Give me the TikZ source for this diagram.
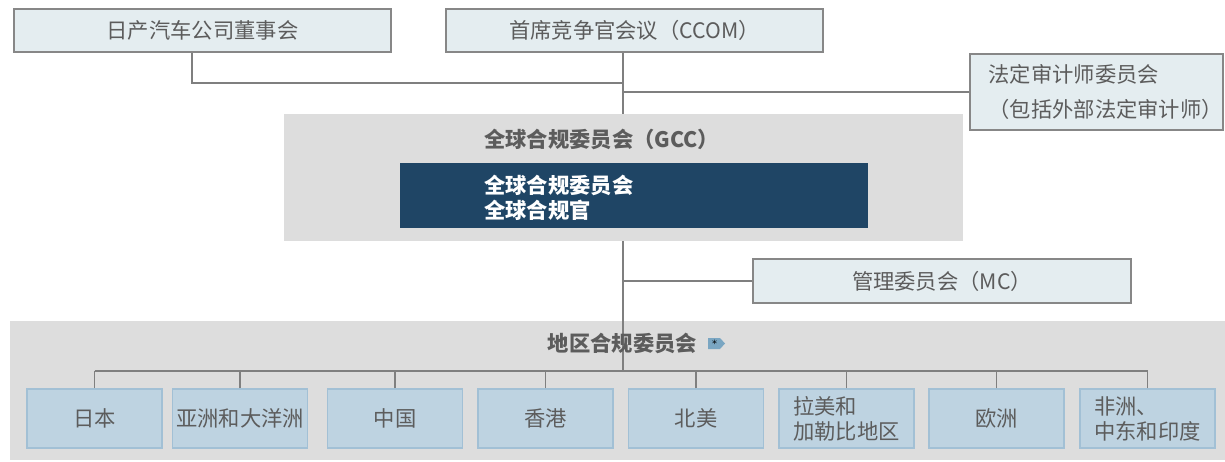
\documentclass[tikz,border=0pt]{standalone}
\usepackage{fontspec}
\setmainfont{Noto Sans CJK SC}
\newfontfamily\starfont{DejaVu Sans}
\definecolor{topfill}{HTML}{E4EDF0}
\definecolor{topdraw}{HTML}{878787}
\definecolor{graybg}{HTML}{DDDDDD}
\definecolor{darkblue}{HTML}{1F4565}
\definecolor{regfill}{HTML}{BED3E1}
\definecolor{regdraw}{HTML}{A2C0D5}
\definecolor{linegray}{HTML}{7F7F7F}
\definecolor{txtgray}{HTML}{5C5C5C}
\definecolor{tagblue}{HTML}{7AA6C2}
\newcommand{\cjksize}{\fontsize{21.3}{25}\selectfont}
\tikzset{
  txt/.style={inner sep=0pt, text=txtgray, font=\cjksize},
  topbox/.style={txt, draw=topdraw, fill=topfill, line width=1.3pt},
  graypanel/.style={fill=graybg, inner sep=0pt},
  darkbox/.style={fill=darkblue, inner sep=0pt},
  regbox/.style={txt, draw=regdraw, fill=regfill, line width=1.5pt, minimum width=135pt, minimum height=59pt, align=left},
  conn/.style={draw=linegray, line width=1.5pt},
}
\begin{document}
\begin{tikzpicture}[x=1pt,y=-1pt]
\useasboundingbox (0,0) rectangle (1225,461);
% regional panel (below connectors)
\node[graypanel, minimum width=1215pt, minimum height=139pt] (rcc) at (617.5,390.5) {};
% top boxes
\node[topbox, minimum width=377pt, minimum height=43pt] (board) at (202.5,30.5) {日产汽车公司董事会};
\node[topbox, minimum width=377pt, minimum height=43pt] (ccom) at (634.5,30.5) {首席竞争官会议（CCOM）};
\node[topbox, minimum width=253pt, minimum height=76pt] (auditor) at (1096.5,92) {};
\node[txt, anchor=west, align=left, font=\fontsize{21.3}{35}\selectfont] (auditorlbl) at ([xshift=19pt]auditor.west) {法定审计师委员会\\（包括外部法定审计师）};
\node[topbox, minimum width=378pt, minimum height=44pt] (mc) at (942,281) {管理委员会（MC）};
% regional boxes
\node[regbox] (b1) at (94.5,418.5) {日本};
\node[regbox] (b2) at (240,418.5) {亚洲和大洋洲};
\node[regbox] (b3) at (395,418.5) {中国};
\node[regbox] (b4) at (545.5,418.5) {香港};
\node[regbox] (b5) at (696,418.5) {北美};
\node[regbox] (b6) at (846.5,418.5) {拉美和\\加勒比地区};
\node[regbox] (b7) at (996.5,418.5) {欧洲};
\node[regbox] (b8) at (1147.5,418.5) {非洲、\\中东和印度};
% connectors
\coordinate (bus) at (623,371);
\coordinate (j1) at (623,83);
\draw[conn] ([xshift=-10.5pt]board.south) |- (j1);
\draw[conn] (ccom.south -| bus) -- (bus);
\draw[conn] (auditor.west) -- (auditor.west -| bus);
\draw[conn] (mc.west) -- (mc.west -| bus);
\draw[conn] (b1.north |- bus) -- (b8.north |- bus);
\foreach \b in {b1,b2,b3,b4,b5,b6,b7,b8} {
  \draw[conn] (\b.north) -- (\b.north |- bus);
}
% GCC panel over the spine
\node[graypanel, minimum width=679pt, minimum height=127pt] (gcc) at (623.5,177.5) {};
\node[txt, anchor=west, font=\cjksize\bfseries] (gcctitle) at (484,139) {全球合规委员会（GCC）};
\node[darkbox, minimum width=468pt, minimum height=65pt] (gco) at (634,195.5) {};
\node[txt, anchor=west, align=left, text=white, font=\cjksize\bfseries] (gcotext) at (484,197.5) {全球合规委员会\\全球合规官};
% regional title
\node[txt, font=\cjksize\bfseries] (rcctitle) at (622.5,343) {地区合规委员会};
\draw[fill=tagblue, draw=none] (708,338) -- (720,338) -- (725,343.5) -- (720,349) -- (708,349) -- cycle;
\node[inner sep=0pt, text=black, font=\starfont\fontsize{10}{10}\selectfont] (tagstar) at (714.5,344) {*};
\end{tikzpicture}
\end{document}
